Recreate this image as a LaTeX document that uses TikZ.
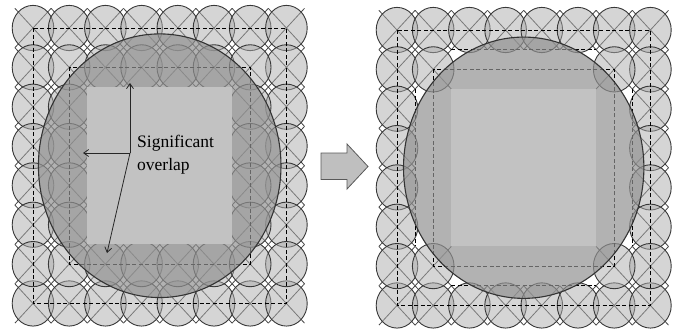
\documentclass[tikz,border=0pt]{standalone}
\usepackage{fontspec}
\setmainfont{Liberation Serif}
\usetikzlibrary{arrows.meta}

\tikzset{
  celldiag/.style ={black!72,line width=0.8pt},
  cellring/.style ={draw=black!78,line width=0.9pt,fill=black!33,fill opacity=0.5},
  gridline/.style ={black,line width=0.8pt,dash pattern=on 4pt off 2.5pt},
  bigdisk/.style  ={draw=black!80,line width=1.1pt,fill=black!43,fill opacity=0.7},
  corearea/.style ={fill=black!24},
  callout/.style  ={-{Straight Barb[length=5pt,width=7pt]},black!85,line width=0.8pt},
  steparrow/.style={draw=black!65,fill=black!25,line width=0.8pt},
  sensor/.pic={
    \draw[celldiag] (-0.5,-0.5) -- (0.5,0.5) (-0.5,0.5) -- (0.5,-0.5);
    \draw[cellring] (0,0) circle[radius=0.575];
  },
}

\begin{document}
\begin{tikzpicture}[x=1pt,y=-1pt]
  \useasboundingbox (0,0) rectangle (677,333);

  % before: outer ring plus a full second ring
  \begin{scope}[shift={(33,28)},x=36.2pt,y=-39.35pt]
    \foreach \i in {0,...,7} {
      \pic at (\i,0) {sensor};
      \pic at (\i,7) {sensor};
    }
    \foreach \j in {1,...,6} {
      \pic at (0,\j) {sensor};
      \pic at (7,\j) {sensor};
    }
    \foreach \i in {1,...,6} {
      \pic at (\i,1) {sensor};
      \pic at (\i,6) {sensor};
    }
    \foreach \j in {2,...,5} {
      \pic at (1,\j) {sensor};
      \pic at (6,\j) {sensor};
    }
    \draw[gridline] (0,0) rectangle (7,7);
    \draw[gridline] (1,1) rectangle (6,6);
    \draw[bigdisk] (3.5,3.5) circle[radius=3.35];
    \fill[corearea] (1.5,1.5) rectangle (5.5,5.5);
  \end{scope}

  \node[anchor=north west,inner sep=0pt,align=left,
        font=\fontsize{17.5}{23}\selectfont] (label) at (137,135) {Significant\\overlap};
  \coordinate (hub) at (130,153);
  \coordinate (topgap) at (130,83);
  \coordinate (sidegap) at (83,153);
  \coordinate (lowgap) at (107,253);
  \draw[callout] (hub) -- (topgap);
  \draw[callout] (hub) -- (sidegap);
  \draw[callout] (hub) -- (lowgap);

  % step arrow
  \draw[steparrow] (321,153) -- (347,153) -- (347,144) -- (368,166.5)
    -- (347,189) -- (347,179.5) -- (321,179.5) -- cycle;

  % after: only the corner sensors of the second ring stay
  \begin{scope}[shift={(397,30)},x=36.2pt,y=-39.35pt]
    \foreach \i in {0,...,7} {
      \pic at (\i,0) {sensor};
      \pic at (\i,7) {sensor};
    }
    \foreach \j in {1,...,6} {
      \pic at (0,\j) {sensor};
      \pic at (7,\j) {sensor};
    }
    \foreach \i/\j in {1/1,6/1,1/6,6/6}
      \pic at (\i,\j) {sensor};
    \draw[gridline] (0,0) rectangle (7,7);
    \draw[gridline] (1,1) rectangle (6,6);
    \draw[gridline] (1.5,0.5) -- (5.5,0.5) (1.5,6.5) -- (5.5,6.5)
                    (0.5,1.5) -- (0.5,5.5) (6.5,1.5) -- (6.5,5.5);
    \draw[bigdisk] (3.5,3.5) circle[radius=3.32];
    \fill[corearea] (1.5,1.5) rectangle (5.5,5.5);
  \end{scope}
\end{tikzpicture}
\end{document}
